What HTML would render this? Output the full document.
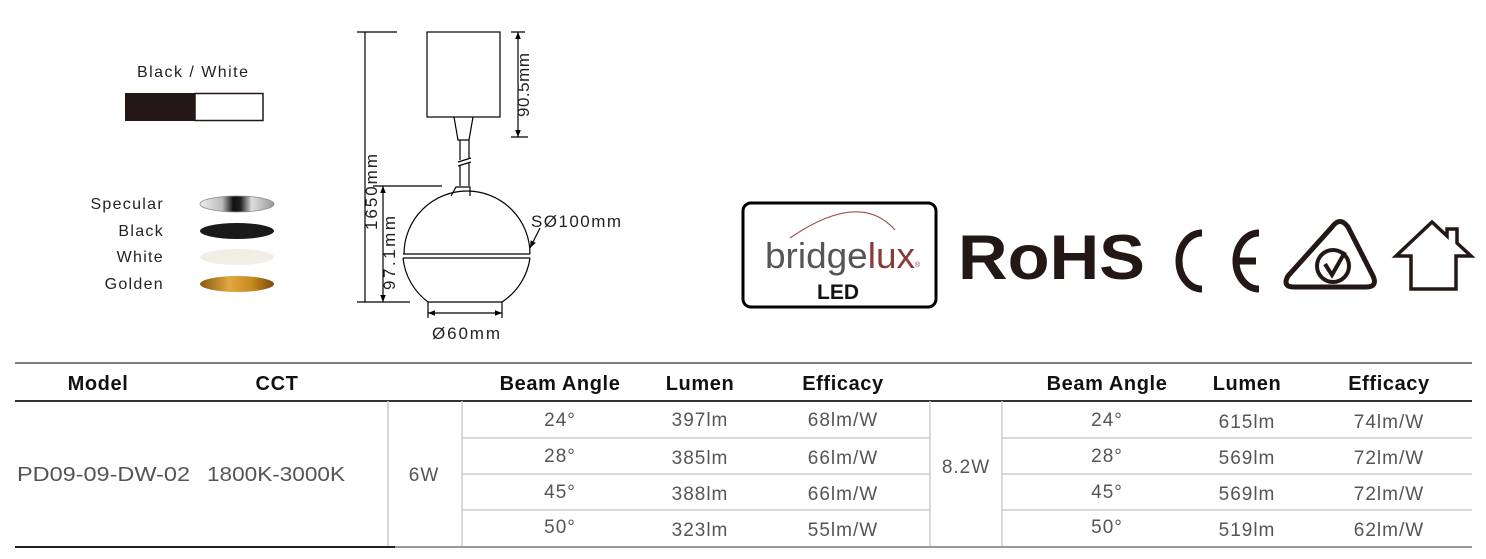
<!DOCTYPE html>
<html><head><meta charset="utf-8"><style>
html,body{margin:0;padding:0;background:#fff;}
body{width:1486px;height:559px;overflow:hidden;position:relative;font-family:"Liberation Sans",sans-serif;}
svg{position:absolute;left:0;top:0;}
</style></head><body>
<svg width="1486" height="559" viewBox="0 0 1486 559" xmlns="http://www.w3.org/2000/svg">
<defs>
<linearGradient id="spec" x1="0" x2="1"><stop offset="0" stop-color="#eee"/><stop offset="0.3" stop-color="#bbb"/><stop offset="0.45" stop-color="#111"/><stop offset="0.55" stop-color="#222"/><stop offset="0.7" stop-color="#ddd"/><stop offset="1" stop-color="#999"/></linearGradient>
<linearGradient id="gold" x1="0" x2="1"><stop offset="0" stop-color="#8a5a10"/><stop offset="0.4" stop-color="#e0a840"/><stop offset="0.7" stop-color="#c88a20"/><stop offset="1" stop-color="#7a4a08"/></linearGradient>
<marker id="ar" viewBox="0 0 10 10" refX="10" refY="5" markerWidth="6" markerHeight="6" orient="auto-start-reverse"><path d="M0,1 L10,5 L0,9 Z" fill="#000"/></marker>
</defs>
<text x="137" y="77" font-size="16" fill="#222" textLength="111">Black  / White</text>
<rect x="125" y="93" width="70" height="28" fill="#231815"/>
<rect x="195" y="93.5" width="68" height="27" fill="#fff" stroke="#231815" stroke-width="1.5"/>
<g font-size="16" fill="#222" text-anchor="end" letter-spacing="1.3">
<text x="164" y="209">Specular</text>
<text x="164" y="236">Black</text>
<text x="164" y="262">White</text>
<text x="164" y="289">Golden</text>
</g>
<ellipse cx="237" cy="204" rx="37" ry="8" fill="url(#spec)" stroke="#888" stroke-width="0.8"/>
<ellipse cx="237" cy="231" rx="37" ry="8" fill="#1a1a1a"/>
<ellipse cx="237" cy="257" rx="37" ry="8" fill="#f2eee6"/>
<ellipse cx="237" cy="284" rx="37" ry="8" fill="url(#gold)"/>
<g stroke="#000" stroke-width="1.2" fill="none">
<rect x="427" y="32" width="73" height="85"/>
<path d="M454,117 L458,140 L469,140 L473,117"/>
<path d="M460,140 L460,160 M469,140 L469,158 M460,165 L460,186 M469,163 L469,186"/>
<path d="M458,162 L471,158 M458,166 L471,162"/>
<path d="M451,196 L456,187 L470,187 L470,196"/>
<path d="M404,254 A63,63 0 0 1 530,254"/>
<path d="M403,258 A63,63 0 0 0 428,302 L502,302 A63,63 0 0 0 530,258"/>
<path d="M403,254 L530,254 M403,258 L530,258"/>
<path d="M357,32 L397,32 M357,302 L410,302"/>
<path d="M365,32 L365,302"/>
<path d="M373,186 L442,186"/>
<path d="M383,186 L383,302" marker-start="url(#ar)" marker-end="url(#ar)"/>
<path d="M511,32 L525,32 M511,137 L528,137"/>
<path d="M518,32 L518,137" marker-start="url(#ar)" marker-end="url(#ar)"/>
<path d="M428,313 L502,313" marker-start="url(#ar)" marker-end="url(#ar)"/>
<path d="M428,302 L428,318 M502,302 L502,318"/>
<path d="M540,228 L530,248" marker-end="url(#ar)"/>
</g>
<g font-size="17" fill="#222">
<text transform="translate(377,230) rotate(-90)" textLength="76">1650mm</text>
<text transform="translate(395,290) rotate(-90)" textLength="74">97.1mm</text>
<text transform="translate(529,117) rotate(-90)" textLength="64">90.5mm</text>
<text x="531" y="227" textLength="90">SØ100mm</text>
<text x="432" y="339" textLength="68">Ø60mm</text>
</g>
<rect x="743" y="203" width="193" height="104" rx="8" fill="#fff" stroke="#000" stroke-width="3"/>
<path d="M790,238 Q860,190 895,230" stroke="#a05050" stroke-width="1.2" fill="none"/>
<text x="765" y="268" font-size="36" fill="#555" textLength="150" lengthAdjust="spacingAndGlyphs">bridge<tspan fill="#8b3a3a">lux</tspan></text>
<text x="915" y="267" font-size="7" fill="#8b3a3a">®</text>
<text x="817" y="299" font-size="21" font-weight="bold" fill="#111">LED</text>
<text x="958" y="279" font-size="63" font-weight="bold" fill="#231815" textLength="187" lengthAdjust="spacingAndGlyphs">RoHS</text>
<g stroke="#231815" stroke-width="7" fill="none">
<path d="M1202,233 A23,28 0 0 0 1202,289"/>
<path d="M1259,233 A23,28 0 0 0 1259,289 M1237,261 L1256,261"/>
<path d="M1332,227 Q1340,216 1348,227 L1373,276 Q1378,287 1366,287 L1294,287 Q1282,287 1288,276 Z" stroke-width="5"/>
<circle cx="1333" cy="266" r="16" stroke-width="4"/>
<path d="M1325,264 L1332,275 L1345,252" stroke-width="4"/>
<path d="M1432,222 L1396,256 L1411,256 L1411,289 L1456,289 L1456,256 L1471,256 L1457,243 L1457,229 L1447,229 L1447,236 Z" stroke-width="3.5" stroke-linejoin="miter"/>
</g>
<g stroke-width="1.5">
<line x1="15" y1="363" x2="1472" y2="363" stroke="#555"/>
<line x1="15" y1="401" x2="1472" y2="401" stroke="#333" stroke-width="2"/>
<g stroke="#ccc">
<line x1="462" y1="438" x2="930" y2="438"/><line x1="462" y1="474" x2="930" y2="474"/><line x1="462" y1="510" x2="930" y2="510"/>
<line x1="1002" y1="438" x2="1472" y2="438"/><line x1="1002" y1="474" x2="1472" y2="474"/><line x1="1002" y1="510" x2="1472" y2="510"/>
<line x1="388" y1="401" x2="388" y2="547"/><line x1="462" y1="401" x2="462" y2="547"/>
<line x1="930" y1="401" x2="930" y2="547"/><line x1="1002" y1="401" x2="1002" y2="547"/>
</g>
<line x1="15" y1="547" x2="395" y2="547" stroke="#222" stroke-width="2"/>
<line x1="395" y1="547" x2="1472" y2="547" stroke="#999" stroke-width="2"/>
</g>
<g font-size="20" font-weight="bold" fill="#111" text-anchor="middle" letter-spacing="0.6">
<text x="98" y="390">Model</text><text x="277" y="390">CCT</text>
<text x="560" y="390">Beam Angle</text><text x="700" y="390">Lumen</text><text x="843" y="390">Efficacy</text>
<text x="1107" y="390">Beam Angle</text><text x="1247" y="390">Lumen</text><text x="1389" y="390">Efficacy</text>
</g>
<g font-size="20" fill="#555">
<text x="17" y="481" textLength="173" lengthAdjust="spacingAndGlyphs">PD09-09-DW-02</text><text x="207" y="481" textLength="138" lengthAdjust="spacingAndGlyphs">1800K-3000K</text>
</g>
<g font-size="19" fill="#555" text-anchor="middle" letter-spacing="1">
<text x="424" y="481">6W</text><text x="966" y="473">8.2W</text>
<text x="560" y="426">24°</text><text x="700" y="426">397lm</text><text x="843" y="426">68lm/W</text>
<text x="560" y="462">28°</text><text x="700" y="464">385lm</text><text x="843" y="464">66lm/W</text>
<text x="560" y="498">45°</text><text x="700" y="500">388lm</text><text x="843" y="500">66lm/W</text>
<text x="560" y="533">50°</text><text x="700" y="536">323lm</text><text x="843" y="536">55lm/W</text>
<text x="1107" y="426">24°</text><text x="1247" y="428">615lm</text><text x="1389" y="428">74lm/W</text>
<text x="1107" y="462">28°</text><text x="1247" y="464">569lm</text><text x="1389" y="464">72lm/W</text>
<text x="1107" y="498">45°</text><text x="1247" y="500">569lm</text><text x="1389" y="500">72lm/W</text>
<text x="1107" y="533">50°</text><text x="1247" y="536">519lm</text><text x="1389" y="536">62lm/W</text>
</g>
</svg>
</body></html>
